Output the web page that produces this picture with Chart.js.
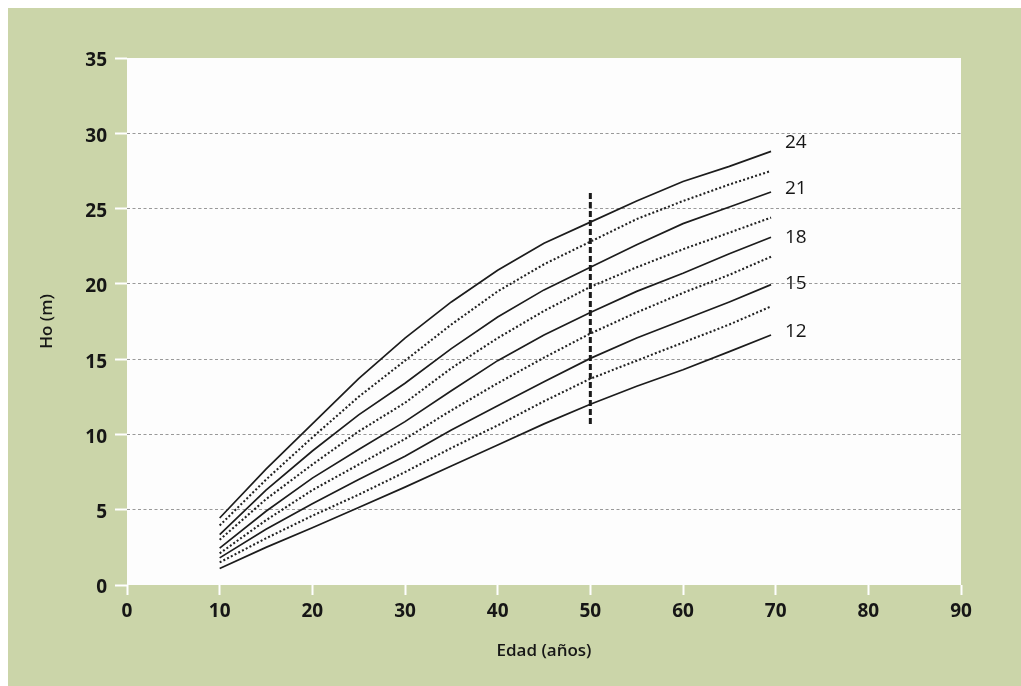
<!DOCTYPE html>
<html>
<head>
<meta charset="utf-8">
<script src="https://cdn.jsdelivr.net/npm/chart.js@4/dist/chart.umd.min.js"></script>
<style>
  html, body { margin: 0; padding: 0; background: #ffffff; }
  canvas { display: block; }
</style>
</head>
<body>
<canvas id="chart" width="1021" height="686"></canvas>
<script>
// Dominant height (m) against age (years) for a family of site-index curves
const ages = [10, 15, 20, 25, 30, 35, 40, 45, 50, 55, 60, 65, 69.5];

const ho24   = [4.45, 7.7, 10.7, 13.7, 16.4, 18.8, 20.9, 22.7, 24.1, 25.5, 26.8, 27.8, 28.8];
const ho22_5 = [3.95, 7.0,  9.8, 12.5, 14.9, 17.3, 19.5, 21.3, 22.8, 24.3, 25.5, 26.6, 27.5];
const ho21   = [3.35, 6.3,  8.9, 11.3, 13.4, 15.7, 17.8, 19.6, 21.1, 22.6, 24.0, 25.1, 26.1];
const ho19_5 = [3.00, 5.7,  8.0, 10.2, 12.1, 14.4, 16.4, 18.2, 19.8, 21.1, 22.3, 23.4, 24.4];
const ho18   = [2.45, 4.9,  7.1,  9.0, 10.85, 12.9, 14.9, 16.6, 18.1, 19.5, 20.7, 22.0, 23.1];
const ho16_5 = [2.10, 4.3,  6.3,  8.0,  9.7, 11.6, 13.4, 15.1, 16.7, 18.1, 19.4, 20.6, 21.8];
const ho15   = [1.80, 3.7,  5.4,  7.0,  8.55, 10.3, 11.9, 13.5, 15.05, 16.4, 17.6, 18.8, 19.95];
const ho13_5 = [1.50, 3.1,  4.6,  6.0,  7.5,  9.1, 10.6, 12.2, 13.7, 14.9, 16.1, 17.3, 18.5];
const ho12   = [1.10, 2.5,  3.8,  5.15, 6.5,  7.9,  9.3, 10.7, 12.0, 13.2, 14.3, 15.5, 16.6];

// Reference age marker
const refAge = 50;
const refRange = [10.7, 26.1];

// Curve labels at the right end of the solid curves
const curveLabels = ['24', '21', '18', '15', '12'];
const curveLabelHo = [29.4, 26.3, 23.1, 20.0, 16.8];
const curveLabelAge = 71.0;

// Axis ranges and titles
const xMin = 0, xMax = 90, xStep = 10;
const yMin = 0, yMax = 35, yStep = 5;
const xTitle = 'Edad (años)';
const yTitle = 'Ho (m)';

const toPoints = (vals) => vals.map((v, i) => ({ x: ages[i], y: v }));

const solidStyle = { borderColor: '#1c1c1c', borderWidth: 1.7, borderDash: [] };
const dottedStyle = { borderColor: '#222222', borderWidth: 2.1, borderDash: [2, 2.2] };

const series = [
  [ho24, solidStyle], [ho22_5, dottedStyle], [ho21, solidStyle],
  [ho19_5, dottedStyle], [ho18, solidStyle], [ho16_5, dottedStyle],
  [ho15, solidStyle], [ho13_5, dottedStyle], [ho12, solidStyle]
];

const datasets = series.map(([vals, st]) => ({
  data: toPoints(vals),
  borderColor: st.borderColor,
  borderWidth: st.borderWidth,
  borderDash: st.borderDash,
  pointRadius: 0,
  tension: 0,
  fill: false
}));

datasets.push({
  data: [{ x: refAge, y: refRange[0] }, { x: refAge, y: refRange[1] }],
  borderColor: '#1a1a1a',
  borderWidth: 3,
  borderDash: [6, 3],
  pointRadius: 0,
  fill: false
});

const GREEN = 'rgb(203,213,169)';

const backdrop = {
  id: 'backdrop',
  beforeDraw(chart) {
    const { ctx, width, height, chartArea: a } = chart;
    ctx.save();
    ctx.fillStyle = '#ffffff';
    ctx.fillRect(0, 0, width, height);
    ctx.fillStyle = GREEN;
    ctx.fillRect(8, 8, width - 8, height - 8);
    ctx.fillStyle = '#fdfdfd';
    ctx.fillRect(a.left, a.top, a.right - a.left, a.bottom - a.top);
    ctx.restore();
  }
};

const endLabels = {
  id: 'endLabels',
  afterDatasetsDraw(chart) {
    const { ctx, scales: { x, y } } = chart;
    ctx.save();
    ctx.font = '400 19px "Open Sans"';
    ctx.fillStyle = '#161616';
    ctx.textAlign = 'left';
    ctx.textBaseline = 'middle';
    curveLabels.forEach((t, i) => {
      ctx.fillText(t, x.getPixelForValue(curveLabelAge), y.getPixelForValue(curveLabelHo[i]));
    });
    ctx.restore();
  }
};

new Chart(document.getElementById('chart'), {
  type: 'line',
  data: { datasets },
  plugins: [backdrop, endLabels],
  options: {
    responsive: false,
    animation: false,
    layout: { padding: { left: 0, top: 58, right: 60, bottom: 0 } },
    plugins: { legend: { display: false }, tooltip: { enabled: false } },
    scales: {
      x: {
        type: 'linear',
        min: xMin, max: xMax,
        afterFit(s) { s.height = 101; },
        ticks: {
          stepSize: xStep,
          padding: 5,
          color: '#161616',
          font: { family: '"Open Sans"', size: 19, weight: '700' }
        },
        grid: {
          drawOnChartArea: false,
          tickLength: 10,
          tickColor: '#ffffff',
          tickWidth: 2
        },
        border: { display: false },
        title: {
          display: true,
          text: xTitle,
          color: '#161616',
          font: { family: '"Open Sans"', size: 17, weight: '600' },
          padding: { top: 0, bottom: 25 }
        }
      },
      y: {
        type: 'linear',
        min: yMin, max: yMax,
        afterFit(s) { s.width = 127; },
        ticks: {
          stepSize: yStep,
          padding: 8,
          labelOffset: 3,
          color: '#161616',
          font: { family: '"Open Sans"', size: 19, weight: '700' }
        },
        grid: {
          color: (c) => (c.tick && (c.tick.value === yMin || c.tick.value === yMax)) ? 'rgba(0,0,0,0)' : '#999999',
          lineWidth: 1,
          tickLength: 12,
          tickColor: '#ffffff',
          tickWidth: 2,
          tickBorderDash: []
        },
        border: { display: false, dash: [3, 2.5] },
        title: {
          display: true,
          text: yTitle,
          color: '#161616',
          font: { family: '"Open Sans"', size: 17, weight: '600' },
          padding: { top: 37, bottom: 0 }
        }
      }
    }
  }
});
</script>
</body>
</html>
